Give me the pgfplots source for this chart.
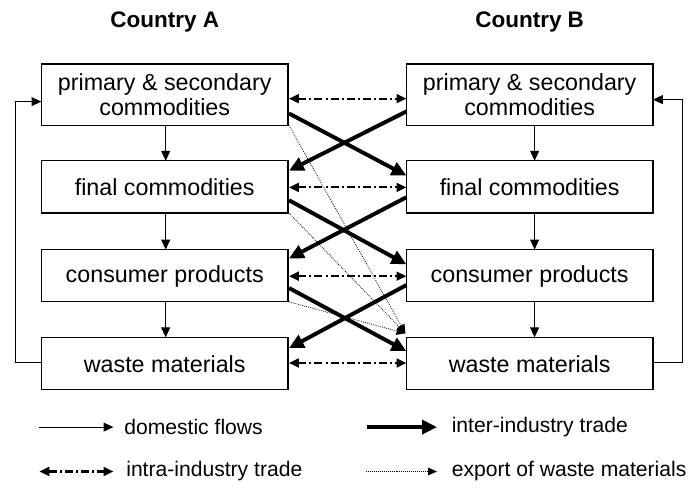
\documentclass[border=0pt]{standalone}
\usepackage{pgfplots}
\pgfplotsset{compat=1.18}
\usepackage{fontspec}
\setmainfont{Liberation Sans}
\usetikzlibrary{arrows.meta}
\tikzset{bx/.style={font=\fontsize{11.8}{12.6}\selectfont}, lg/.style={anchor=west, font=\fontsize{10.7}{12}\selectfont}}
\begin{document}
\begin{tikzpicture}
\begin{axis}[hide axis, scale only axis, width=346.5pt, height=245.5pt,
  xmin=0, xmax=693, ymin=0, ymax=491, y dir=reverse, clip=false]
\addplot[draw=none] coordinates {(0,0) (693,491)};
% boxes
\pgfplotsinvokeforeach{42,412}{
\addplot[black, line width=0.65pt] coordinates {(#1,65) (#1+250,65) (#1+250,127) (#1,127)} --cycle;
\addplot[black, line width=0.65pt] coordinates {(#1,163) (#1+250,163) (#1+250,216) (#1,216)} --cycle;
\addplot[black, line width=0.65pt] coordinates {(#1,253) (#1+250,253) (#1+250,306) (#1,306)} --cycle;
\addplot[black, line width=0.65pt] coordinates {(#1,342) (#1+250,342) (#1+250,395) (#1,395)} --cycle;
}
% titles
\node[font=\fontsize{11.4}{12}\selectfont\bfseries] at (axis cs:167,22) {Country A};
\node[font=\fontsize{11.4}{12}\selectfont\bfseries] at (axis cs:537,22) {Country B};
% box texts
\node[bx, align=center] at (axis cs:167,96) {primary \& secondary\\commodities};
\node[bx, align=center] at (axis cs:537,96) {primary \& secondary\\commodities};
\node[bx] at (axis cs:167,190) {final commodities};
\node[bx] at (axis cs:537,190) {final commodities};
\node[bx] at (axis cs:167,280) {consumer products};
\node[bx] at (axis cs:537,280) {consumer products};
\node[bx] at (axis cs:167,369) {waste materials};
\node[bx] at (axis cs:537,369) {waste materials};
% domestic flows
\tikzset{dom/.style={black, line width=0.5pt, -{Triangle[length=5pt,width=4.5pt]}}}
\addplot[dom] coordinates {(168,127) (168,163)};
\addplot[dom] coordinates {(168,216) (168,253)};
\addplot[dom] coordinates {(168,306) (168,342)};
\addplot[dom] coordinates {(542,127) (542,163)};
\addplot[dom] coordinates {(542,216) (542,253)};
\addplot[dom] coordinates {(542,306) (542,342)};
\addplot[dom] coordinates {(42,368) (16,368) (16,103) (42,103)};
\addplot[dom] coordinates {(662,368) (692,368) (692,101) (662,101)};
% intra-industry trade
\tikzset{intra/.style={black, line width=1.1pt, dash pattern=on 4pt off 1.6pt on 1pt off 1.6pt, {Triangle[length=5pt,width=4.5pt]}-{Triangle[length=5pt,width=4.5pt]}}}
\addplot[intra] coordinates {(293,100) (412,100)};
\addplot[intra] coordinates {(293,190) (412,190)};
\addplot[intra] coordinates {(293,280) (412,280)};
\addplot[intra] coordinates {(293,368) (412,368)};
% inter-industry trade
\tikzset{inter/.style={black, line width=2pt, -{Triangle[length=7.5pt,width=7pt]}}}
\addplot[inter] coordinates {(293,115) (412,178)};
\addplot[inter] coordinates {(412,113) (293,173)};
\addplot[inter] coordinates {(293,203) (412,268)};
\addplot[inter] coordinates {(412,200) (293,262)};
\addplot[inter] coordinates {(293,292) (412,356)};
\addplot[inter] coordinates {(412,289) (293,353)};
% export of waste materials
\tikzset{expo/.style={black, line width=0.4pt, dash pattern=on 0.4pt off 0.6pt, -{Triangle[length=4.5pt,width=4pt,line width=0pt]}}}
\addplot[expo] coordinates {(293,127) (411,338)};
\addplot[expo] coordinates {(293,216) (411,338)};
\addplot[expo] coordinates {(293,306) (411,338)};
% legend
\addplot[dom] coordinates {(40,433) (115,433)};
\node[lg] at (axis cs:119,433) {domestic flows};
\addplot[inter] coordinates {(372,433) (443,433)};
\node[lg] at (axis cs:451,433) {inter-industry trade};
\addplot[intra] coordinates {(40,478) (115,478)};
\node[lg] at (axis cs:121,478) {intra-industry trade};
\addplot[expo] coordinates {(371,478) (443,478)};
\node[lg] at (axis cs:451,478) {export of waste materials};
\end{axis}
\end{tikzpicture}
\end{document}
